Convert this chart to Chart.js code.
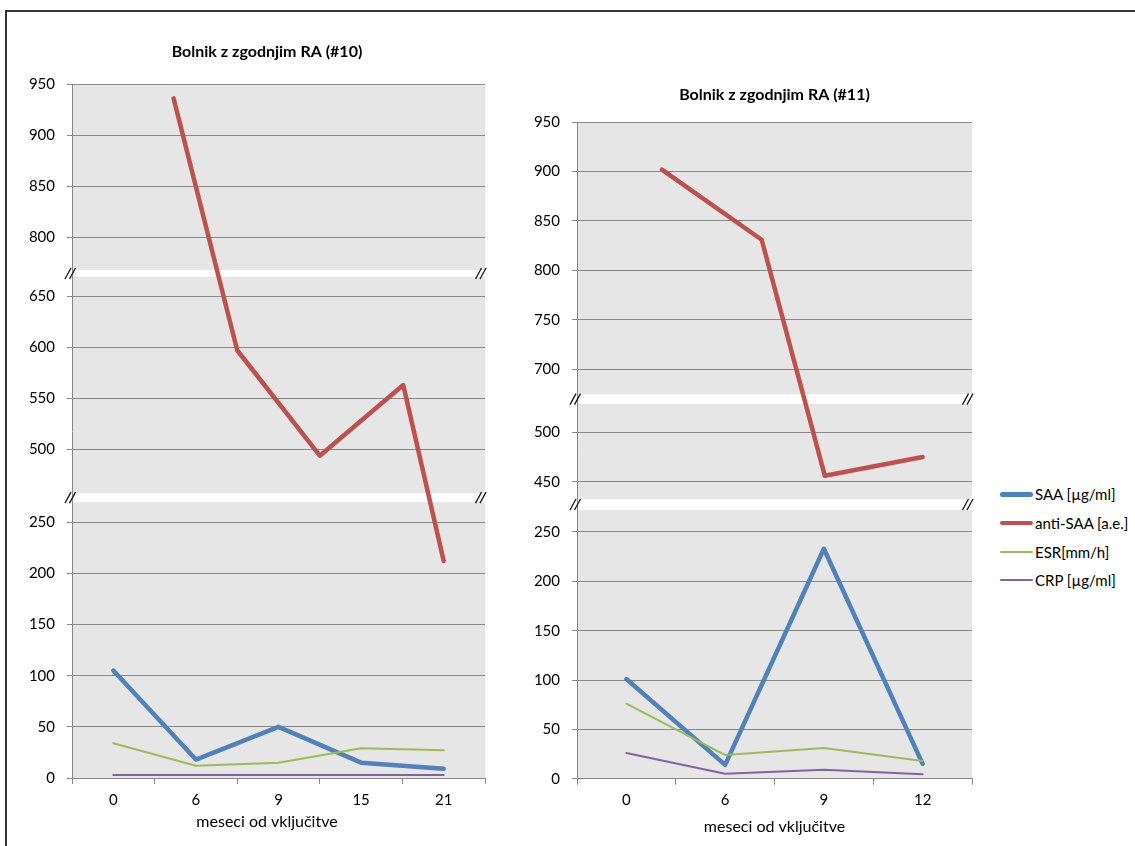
<!DOCTYPE html>
<html><head><meta charset="utf-8">
<script src="https://cdn.jsdelivr.net/npm/chart.js@4.4.1/dist/chart.umd.min.js"></script>
<style>
body{margin:0;background:#fff;width:1135px;height:846px;overflow:hidden;position:relative;font-family:Lato,sans-serif}
#frame{position:absolute;left:5px;top:10px;width:1200px;height:900px;border-left:2px solid #333;border-top:2px solid #333}
#c10{position:absolute;left:0;top:0}
#c11{position:absolute;left:520px;top:0}
#legend{position:absolute;left:1000px;top:480px;font-size:15px;color:#000}
.li{display:flex;align-items:center;height:28.7px;white-space:nowrap}
.ln{width:33px;margin-right:2px}
</style></head><body>
<div id="frame"></div>
<canvas id="c10" width="507" height="846"></canvas>
<canvas id="c11" width="470" height="846"></canvas>
<div id="legend"></div>
<script>
const seriesNames=['SAA [µg/ml]','anti-SAA [a.e.]','ESR[mm/h]','CRP [µg/ml]'];
const seriesColors=['#4F81BD','#C0504D','#9BBB59','#8064A2'];
const seriesWidths=[4.5,4.5,2,2];

// bolnik #10
const months10=['0','6','9','15','21'];
const saa10=[105,18,50,15,9];
const esr10=[34,12,15,29,27];
const crp10=[3,3,3,3,3];
const antiSaa10=[936,597,494,563,212];
const antiSaaPos10=[0.73,1.5,2.5,3.51,4];
const yTicks10=[0,50,100,150,200,250,500,550,600,650,800,850,900,950];
const yParts10=[[0,269.6],[457.4,668.6],[768.2,950]];
const yGaps10=[8.8,6.8];

// bolnik #11
const months11=['0','6','9','12'];
const saa11=[101,14,233,15];
const esr11=[76,24,31,18];
const crp11=[26,5,9,4.5];
const antiSaa11=[902,831,456,475];
const antiSaaPos11=[0.36,1.37,2.01,3];
const yTicks11=[0,50,100,150,200,250,450,500,700,750,800,850,900,950];
const yParts11=[[0,272.2],[432.5,528.8],[674.4,950]];
const yGaps11=[11.2,9.8];

// y os s prekinitvami
class BrokenScale extends Chart.LinearScale{
  static id='broken';
  static defaults=Chart.LinearScale.defaults;
  toT(v){
    let off=0;
    for(let i=0;i<this.parts.length;i++){
      const [a,b]=this.parts[i];
      if(v<a) return off;
      if(v<=b||i==this.parts.length-1) return off+v-a;
      off+=b-a+this.gaps[i];
    }
  }
  getPixelForValue(v){
    if(v==null||isNaN(v)) return NaN;
    const last=this.parts[this.parts.length-1];
    return this.getPixelForDecimal(this.toT(v)/this.toT(last[1]));
  }
}
Chart.register(BrokenScale);

const breakPlugin={
  id:'breaks',
  beforeDraw(chart){
    const {ctx,chartArea:a,scales:{y}}=chart;
    ctx.save();
    ctx.fillStyle='#E6E6E6';
    y.parts.forEach(([lo,hi])=>{
      const t=y.getPixelForValue(hi),b=y.getPixelForValue(lo);
      ctx.fillRect(a.left,t,a.right-a.left,b-t);
    });
    ctx.restore();
  },
  afterDraw(chart){
    const {ctx,chartArea:a,scales:{y}}=chart;
    ctx.save();
    ctx.strokeStyle='#1a1a1a';ctx.lineWidth=1.3;
    for(let i=0;i<y.parts.length-1;i++){
      const yc=(y.getPixelForValue(y.parts[i][1])+y.getPixelForValue(y.parts[i+1][0]))/2;
      [a.left-4,a.left+0.5,a.right-6.5,a.right-2].forEach(cx=>{
        ctx.beginPath();ctx.moveTo(cx-3,yc+5.5);ctx.lineTo(cx+3,yc-5.5);ctx.stroke();
      });
    }
    ctx.restore();
  }
};

const font={family:'Lato',size:15};
const titleFont={family:'Lato',size:16};

function makeChart(id,o){
  const ds=[o.saa,null,o.esr,o.crp];
  const datasets=seriesNames.map((n,i)=>({
    label:n,
    data:i==1?o.anti.map((v,j)=>({x:o.antiPos[j],y:v})):ds[i],
    xAxisID:i==1?'xr':'x',
    borderColor:seriesColors[i],backgroundColor:seriesColors[i],
    borderWidth:seriesWidths[i],pointRadius:0,tension:0,
    borderCapStyle:'round',borderJoinStyle:'round',order:3-i
  }));
  const scales={
    x:{type:'category',offset:true,
      grid:{offset:true,drawOnChartArea:false,tickLength:6,color:'#888'},
      border:{color:'#888'},
      ticks:{font,color:'#000',padding:o.xp},
      afterFit:s=>{s.height=o.xh;}},
    xr:{type:'linear',display:false,min:-0.5,max:o.months.length-0.5},
    y:{type:'broken',min:0,max:950,
      grid:{color:'#888',tickLength:5},
      border:{color:'#888'},
      ticks:{font,color:'#000',padding:12,callback:v=>String(v)},
      afterBuildTicks:s=>{s.parts=o.parts;s.gaps=o.gaps;s.ticks=o.ticks.map(v=>({value:v}));},
      afterFit:s=>{s.width=o.yw;}}
  };
  // prazen prostor desno, da je naslov centriran kot v izvirniku
  if(o.rw) scales.yr={type:'linear',position:'right',grid:{display:false},border:{display:false},
    ticks:{display:false},afterFit:s=>{s.width=o.rw;}};
  return new Chart(document.getElementById(id),{
    type:'line',
    data:{labels:o.months,datasets},
    plugins:[breakPlugin],
    options:{
      responsive:false,animation:false,events:[],
      layout:{padding:o.pad},
      plugins:{
        legend:{display:false},tooltip:{enabled:false},
        title:{display:true,text:o.title,fullSize:o.full,color:'#000',font:{...titleFont,weight:'bold'},padding:o.titlePad},
        subtitle:{display:true,position:'bottom',fullSize:o.full,text:'meseci od vključitve',color:'#000',font:titleFont,padding:o.subPad}
      },
      scales
    }
  });
}

makeChart('c10',{months:months10,saa:saa10,esr:esr10,crp:crp10,anti:antiSaa10,antiPos:antiSaaPos10,
  ticks:yTicks10,parts:yParts10,gaps:yGaps10,title:'Bolnik z zgodnjim RA (#10)',full:true,
  pad:{left:27,right:0,top:0,bottom:0},titlePad:{top:42.4,bottom:22.4},subPad:{top:0,bottom:14.9},
  xh:33.9,xp:7,yw:45,rw:22});
makeChart('c11',{months:months11,saa:saa11,esr:esr11,crp:crp11,anti:antiSaa11,antiPos:antiSaaPos11,
  ticks:yTicks11,parts:yParts11,gaps:yGaps11,title:'Bolnik z zgodnjim RA (#11)',full:false,
  pad:{left:0,right:18,top:0,bottom:0},titlePad:{top:85.4,bottom:17.7},subPad:{top:0,bottom:9.4},
  xh:38.7,xp:6,yw:57});

// legenda
document.getElementById('legend').innerHTML=seriesNames.map((n,i)=>
  `<div class="li"><div class="ln" style="height:${seriesWidths[i]}px;background:${seriesColors[i]};border-radius:${seriesWidths[i]/2}px"></div>${n}</div>`).join('');
</script>
</body></html>
